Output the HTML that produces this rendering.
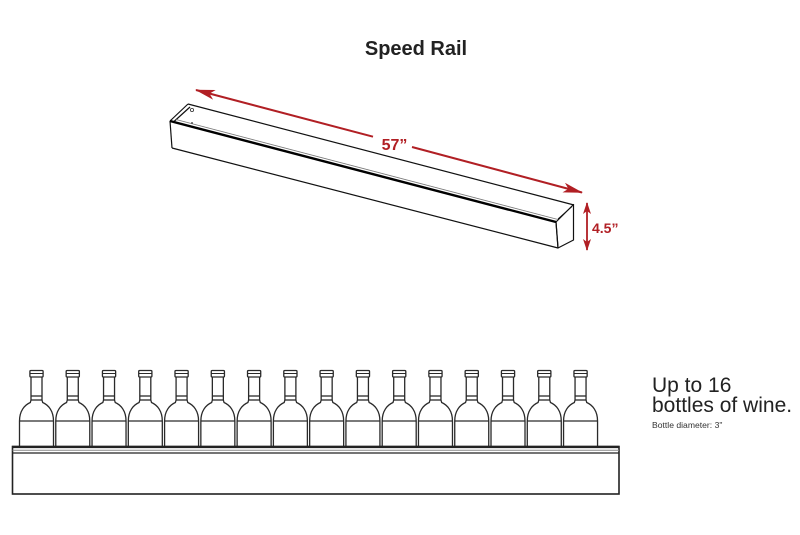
<!DOCTYPE html>
<html>
<head>
<meta charset="utf-8">
<style>
html,body{margin:0;padding:0;background:#fff;}
body{width:800px;height:535px;overflow:hidden;}
svg{display:block;}
</style>
</head>
<body>
<svg width="800" height="535" viewBox="0 0 800 535" xmlns="http://www.w3.org/2000/svg">
<defs>
  <marker id="ah" viewBox="0 0 20 10" refX="19" refY="5" markerWidth="20" markerHeight="10" markerUnits="userSpaceOnUse" orient="auto-start-reverse">
    <path d="M0 0 L20 5 L0 10 L5 5 Z" fill="#b11f24"/>
  </marker>
  <marker id="ah2" viewBox="0 0 12 8" refX="11" refY="4" markerWidth="12" markerHeight="8" markerUnits="userSpaceOnUse" orient="auto-start-reverse">
    <path d="M0 0 L12 4 L0 8 L3 4 Z" fill="#b11f24"/>
  </marker>
  <g id="b" fill="none" stroke="#2a2a2a" stroke-width="1.3">
    <rect x="-6.6" y="370.5" width="13.2" height="6.5" rx="1"/>
    <line x1="-6.6" y1="373.5" x2="6.6" y2="373.5" stroke-width="1"/>
    <path d="M-5.5 377 L-5.5 400 L-6.2 402.5 C-12 405 -17 411 -17 421 L-17 447"/>
    <path d="M5.5 377 L5.5 400 L6.2 402.5 C12 405 17 411 17 421 L17 447"/>
    <line x1="-5.5" y1="396" x2="5.5" y2="396"/>
    <line x1="-5.5" y1="400" x2="5.5" y2="400"/>
    <line x1="-17" y1="421" x2="17" y2="421"/>
  </g>
</defs>

<!-- Title -->
<text x="416" y="55" text-anchor="middle" font-family="Liberation Sans, Arial, sans-serif" font-size="20" font-weight="bold" fill="#222">Speed Rail</text>

<!-- Rail box (isometric) -->
<g fill="none" stroke="#111" stroke-width="1.2" stroke-linejoin="round">
  <line x1="188" y1="104" x2="574" y2="205"/>
  <line x1="170" y1="121" x2="188" y2="104"/>
  <line x1="174" y1="121.5" x2="190" y2="107"/>
  <line x1="170" y1="121" x2="172" y2="148"/>
  <line x1="172" y1="148" x2="558" y2="248"/>
  <polygon points="556,222 573.5,204.5 573.5,240 558,248"/>
  <line x1="558" y1="219" x2="572" y2="206.5" stroke-width="0.9"/>
  <line x1="556" y1="222" x2="558" y2="248"/>
  <line x1="176" y1="119.5" x2="558" y2="219.5" stroke="#777" stroke-width="0.8"/>
</g>
<line x1="170" y1="121" x2="556" y2="222" stroke="#000" stroke-width="2.4"/>
<circle cx="192" cy="110" r="1.6" fill="none" stroke="#333" stroke-width="0.8"/>
<circle cx="192" cy="123" r="1" fill="#555"/>

<!-- 57" dimension arrow -->
<line x1="196" y1="90" x2="373" y2="136.7" stroke="#b11f24" stroke-width="2" marker-start="url(#ah)"/>
<line x1="412" y1="147" x2="582" y2="192.5" stroke="#b11f24" stroke-width="2" marker-end="url(#ah)"/>
<text x="394.5" y="150" text-anchor="middle" font-family="Liberation Sans, Arial, sans-serif" font-size="16" font-weight="bold" fill="#b11f24">57”</text>

<!-- 4.5" dimension arrow -->
<line x1="587" y1="203" x2="587" y2="250" stroke="#b11f24" stroke-width="1.8" marker-start="url(#ah2)" marker-end="url(#ah2)"/>
<text x="592" y="233" font-family="Liberation Sans, Arial, sans-serif" font-size="14" font-weight="bold" fill="#b11f24">4.5”</text>

<!-- Bottles -->
<use href="#b" x="36.5"/>
<use href="#b" x="72.77"/>
<use href="#b" x="109.04"/>
<use href="#b" x="145.31"/>
<use href="#b" x="181.58"/>
<use href="#b" x="217.85"/>
<use href="#b" x="254.12"/>
<use href="#b" x="290.39"/>
<use href="#b" x="326.66"/>
<use href="#b" x="362.93"/>
<use href="#b" x="399.2"/>
<use href="#b" x="435.47"/>
<use href="#b" x="471.74"/>
<use href="#b" x="508.01"/>
<use href="#b" x="544.28"/>
<use href="#b" x="580.55"/>

<!-- Tray -->
<g fill="none" stroke="#222">
  <rect x="12.5" y="446.5" width="606.5" height="47.5" stroke-width="1.6"/>
  <line x1="12" y1="447" x2="619" y2="447" stroke-width="2.2"/>
  <line x1="12.5" y1="450.3" x2="619" y2="450.3" stroke="#888" stroke-width="1"/>
  <line x1="12.5" y1="453" x2="619" y2="453" stroke-width="1.2"/>
</g>

<!-- Right text -->
<g font-family="Liberation Sans, Arial, sans-serif" fill="#222">
  <text x="652" y="392" font-size="21">Up to 16</text>
  <text x="652" y="412" font-size="21">bottles of wine.</text>
  <text x="652" y="428" font-size="8.6" fill="#333">Bottle diameter: 3"</text>
</g>
</svg>
</body>
</html>
